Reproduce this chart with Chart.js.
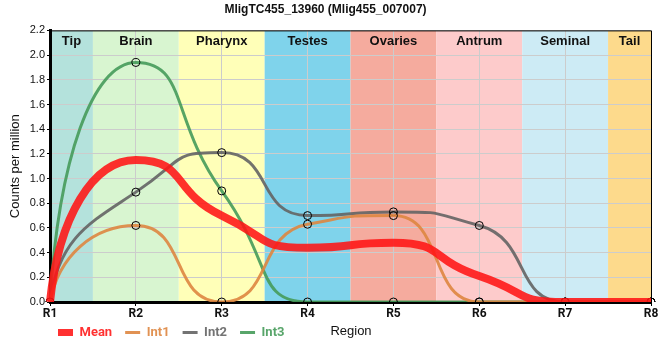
<!DOCTYPE html>
<html>
<head>
<meta charset="utf-8">
<script src="https://cdn.jsdelivr.net/npm/chart.js@4/dist/chart.umd.min.js"></script>
<style>
  html, body { margin: 0; padding: 0; background: #fff; }
  #wrap { width: 660px; height: 360px; }
</style>
</head>
<body>
<div id="wrap"><canvas id="lineChart" width="660" height="360"></canvas></div>
<script>
// values
const regionLabels = ["R1", "R2", "R3", "R4", "R5", "R6", "R7", "R8"];
const regionNames = ["Tip", "Brain", "Pharynx", "Testes", "Ovaries", "Antrum", "Seminal", "Tail"];
const regionColors = ["#b4e2dc", "#d8f5d0", "#ffffb8", "#7fd3eb", "#f5ab9e", "#fdcbcb", "#cdebf5", "#fdda8c"];
const meanValues = [0, 1.15, 0.70, 0.44, 0.48, 0.21, 0, 0];
const int1Values = [0, 0.62, 0, 0.63, 0.70, 0, 0, 0];
const int2Values = [0, 0.89, 1.21, 0.70, 0.73, 0.62, 0, 0];
const int3Values = [0, 1.94, 0.90, 0, 0, 0, 0, 0];
const yTicks = [0, 0.2, 0.4, 0.6, 0.8, 1.0, 1.2, 1.4, 1.6, 1.8, 2.0, 2.2];

const bandsPlugin = {
    id: "bands",
    afterLayout(chart) {
        // legend shares its row with the x axis title, a bit higher than default
        const lg = chart.legend;
        lg.top -= 9; lg.bottom -= 9; lg.left -= 5; lg.right -= 5;
    },
    beforeDraw(chart) {
        const { ctx, chartArea: a, scales: { x } } = chart;
        ctx.save();
        regionNames.forEach((name, i) => {
            const l = Math.max(a.left, x.getPixelForValue(i - 0.5));
            const r = Math.min(a.right, x.getPixelForValue(i + 0.5));
            ctx.fillStyle = regionColors[i];
            ctx.fillRect(l, a.top, r - l, a.bottom - a.top);
        });
        ctx.restore();
    },
    beforeDatasetsDraw(chart) {
        const { ctx, chartArea: a, scales: { x } } = chart;
        ctx.save();
        ctx.font = "bold 13px 'Liberation Sans', Arial, sans-serif";
        ctx.fillStyle = "#111";
        ctx.textAlign = "center";
        ctx.textBaseline = "middle";
        regionNames.forEach((name, i) => {
            const l = Math.max(a.left, x.getPixelForValue(i - 0.5));
            const r = Math.min(a.right, x.getPixelForValue(i + 0.5));
            ctx.fillText(name, (l + r) / 2, a.top + 11);
        });
        ctx.restore();
    },
    afterDraw(chart) {
        const { ctx, chartArea: a } = chart;
        ctx.save();
        ctx.strokeStyle = "#000";
        ctx.lineWidth = 1;
        ctx.beginPath();
        ctx.moveTo(a.left, a.top + 0.5);
        ctx.lineTo(a.right + 0.5, a.top + 0.5);
        ctx.lineTo(a.right + 0.5, a.bottom);
        ctx.stroke();
        ctx.font = "13px 'Liberation Sans', Arial, sans-serif";
        ctx.fillStyle = "#111";
        ctx.textAlign = "center";
        ctx.textBaseline = "middle";
        ctx.fillText("Region", 351, 331);
        ctx.restore();
    }
};

// smoother curve: monotone tangents, long handles so changes happen between regions
const smoothPlugin = {
    id: "smooth",
    beforeDatasetDraw(chart, args) {
        const meta = args.meta;
        const line = meta.dataset;
        const pts = meta.data;
        if (!line || pts.length < 2) return;
        line.updateControlPoints(chart.chartArea);
        const n = pts.length;
        const d = [];
        for (let k = 0; k < n - 1; k++) d.push((pts[k + 1].y - pts[k].y) / (pts[k + 1].x - pts[k].x));
        const m = pts.map((p, i) => {
            if (i === 0 || i === n - 1) return 0;
            if (d[i - 1] * d[i] <= 0) return 0;
            return 2 / (1 / d[i - 1] + 1 / d[i]);
        });
        const handle = (p, q, slope, dir, a) => {
            const h = Math.abs(q.x - p.x);
            let hx = a * h;
            const lo = Math.min(p.y, q.y), hi = Math.max(p.y, q.y);
            let y = p.y + slope * hx * dir;
            if (y < lo || y > hi) {
                y = Math.min(hi, Math.max(lo, y));
                hx = slope !== 0 ? Math.abs((y - p.y) / slope) : hx;
            }
            return { x: p.x + hx * dir, y };
        };
        pts.forEach((p, i) => {
            if (i < n - 1) {
                const q = pts[i + 1];
                let c;
                if (i === 0) c = { x: p.x + 0.1 * (q.x - p.x), y: p.y + 0.6 * (q.y - p.y) };
                else c = handle(p, q, m[i], 1, 0.6);
                p.cp2x = c.x; p.cp2y = c.y;
            }
            if (i > 0) {
                const c = handle(p, pts[i - 1], m[i], -1, i === 1 ? 0.5 : 0.6);
                p.cp1x = c.x; p.cp1y = c.y;
            }
        });
        line._pointsUpdated = true;
        line._path = undefined;
    }
};

function series(label, data, color, width, points) {
    return {
        label, data,
        borderColor: color, backgroundColor: color,
        borderWidth: width,
        cubicInterpolationMode: "monotone",
        pointRadius: points ? 4 : 0,
        pointBorderColor: "#000", pointBackgroundColor: "rgba(255,255,255,0)",
        pointBorderWidth: 1,
        pointStyle: "circle",
        fill: false
    };
}

const ctx = document.getElementById("lineChart").getContext("2d");
new Chart(ctx, {
    type: "line",
    data: {
        labels: regionLabels,
        datasets: [
            series("Mean", meanValues, "rgba(255,20,20,0.88)", 8, false),
            series("Int1", int1Values, "rgba(222,134,64,0.9)", 3, true),
            series("Int2", int2Values, "rgba(100,100,100,0.9)", 3, true),
            series("Int3", int3Values, "rgba(70,155,90,0.9)", 3, true)
        ]
    },
    options: {
        responsive: false,
        animation: false,
        layout: { padding: { left: 0, right: 9, top: 0, bottom: 2 } },
        plugins: {
            title: {
                display: true,
                text: "MligTC455_13960 (Mlig455_007007)",
                font: { family: "'Liberation Sans', Arial, sans-serif", size: 12, weight: "bold" },
                color: "#111",
                padding: { top: 2, bottom: 14 }
            },
            legend: {
                position: "bottom",
                align: "start",
                fullSize: false,
                labels: {
                    usePointStyle: true,
                    pointStyleWidth: 15,
                    font: { family: "Roboto, sans-serif", size: 13, weight: "bold" },
                    padding: 13,
                    generateLabels(chart) {
                        const items = Chart.defaults.plugins.legend.labels.generateLabels(chart);
                        items.forEach((it, i) => {
                            const ds = chart.data.datasets[i];
                            it.pointStyle = "line";
                            it.fontColor = ds.borderColor;
                            it.strokeStyle = ds.borderColor;
                            it.lineWidth = i === 0 ? 7 : 3;
                        });
                        return items;
                    }
                }
            },
            tooltip: { enabled: false }
        },
        scales: {
            x: {
                type: "category",
                offset: false,
                grid: { color: "#cccccc", lineWidth: 1, drawTicks: true, tickLength: 4, tickColor: "#000" },
                border: { color: "#000", width: 3 },
                ticks: {
                    color: "#111",
                    font: { family: "Roboto, sans-serif", size: 12, weight: "bold" },
                    padding: 1,
                    maxRotation: 0
                },
                afterFit(s) { s.height = 20; }
            },
            y: {
                min: 0, max: 2.2,
                afterBuildTicks(s) { s.ticks = yTicks.map(v => ({ value: v })); },
                grid: { color: "#cccccc", lineWidth: 1, tickLength: 3, tickColor: "#000" },
                border: { color: "#000", width: 3 },
                ticks: {
                    color: "#111",
                    font: { family: "'Liberation Sans', Arial, sans-serif", size: 11 },
                    padding: 2,
                    callback: v => Number(v).toFixed(1)
                },
                title: {
                    display: true,
                    text: "Counts per million",
                    color: "#111",
                    font: { family: "'Liberation Sans', Arial, sans-serif", size: 13 },
                    padding: { top: 8, bottom: 2 }
                },
                afterFit(s) { s.width = 50; }
            }
        }
    },
    plugins: [bandsPlugin, smoothPlugin]
});
</script>
</body>
</html>
